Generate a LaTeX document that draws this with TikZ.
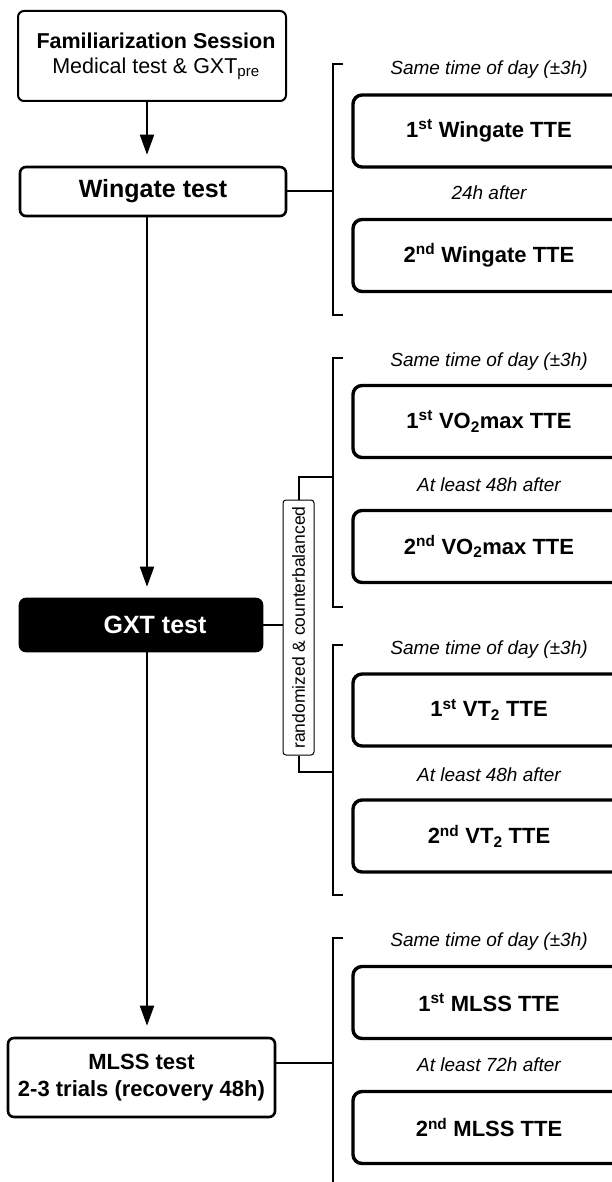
\documentclass[tikz,border=0pt]{standalone}
\usepackage{fontspec}
\usepackage{graphicx}
\usepackage{tikz}
\usetikzlibrary{arrows.meta, positioning}
\setmainfont{Liberation Sans}
\tikzset{
    link/.style={line width=2pt},
    flow/.style={link, -{Triangle[length=20pt, width=14pt]}, shorten >=11pt},
    stagebox/.style={draw, line width=2.6pt, rounded corners=6pt, align=center, font=\fontsize{22}{27}\selectfont\bfseries},
    ttebox/.style={draw, line width=3.4pt, rounded corners=9pt, minimum width=272pt, minimum height=72pt, font=\fontsize{22}{26}\selectfont\bfseries},
    note/.style={font=\fontsize{19}{22}\selectfont\itshape}
}

\begin{document}
\begin{tikzpicture}[x=1pt, y=-1pt]
    \useasboundingbox (0,0) rectangle (611,1182);

    % left column
    \node[stagebox, line width=2pt, minimum width=268pt, minimum height=90pt, font=\fontsize{21.5}{25}\selectfont] (fam) at (152,56)
        {\hspace*{8pt}\textbf{Familiarization Session}\\\hspace*{8pt}Medical test \& GXT\textsubscript{pre}};
    \node[stagebox, minimum width=266pt, minimum height=49pt, font=\fontsize{25}{30}\selectfont\bfseries] (wing) at (153,191.5) {Wingate test};
    \node[stagebox, fill=black, text=white, minimum width=242pt, minimum height=52pt, font=\fontsize{25}{30}\selectfont\bfseries] (gxt) at (141,625) {\hspace*{28pt}GXT test};
    \node[stagebox, minimum width=267pt, minimum height=79pt] (mlss) at (141.5,1077.5) {MLSS test\\2-3 trials (recovery 48h)};
    \node[draw, line width=1pt, rounded corners=3pt, minimum width=31pt, minimum height=255pt, inner sep=0pt, font=\fontsize{17.5}{20}\selectfont] (rnd) at (298.5,627.5)
        {\rotatebox{90}{randomized \& counterbalanced}};

    \coordinate (spine) at (147,0);
    \draw[flow] (spine |- fam.south) -- (spine |- wing.north);
    \draw[flow] (spine |- wing.south) -- (spine |- gxt.north);
    \draw[flow] (spine |- gxt.south) -- (spine |- mlss.north);

    % brackets
    \coordinate (g1t) at (333,64);   \coordinate (g1b) at (333,315);
    \coordinate (g2t) at (333,358);  \coordinate (g2b) at (333,607);  \coordinate (g2j) at (333,477);
    \coordinate (g3t) at (333,645);  \coordinate (g3b) at (333,895);  \coordinate (g3j) at (333,772);
    \coordinate (g4t) at (333,938);  \coordinate (g4b) at (333,1190);
    \draw[link] ([xshift=10pt]g1t) -- (g1t) -- (g1b) -- ([xshift=10pt]g1b);
    \draw[link] ([xshift=10pt]g2t) -- (g2t) -- (g2b) -- ([xshift=10pt]g2b);
    \draw[link] ([xshift=10pt]g3t) -- (g3t) -- (g3b) -- ([xshift=10pt]g3b);
    \draw[link] ([xshift=10pt]g4t) -- (g4t) -- (g4b);

    \draw[link] (wing.east) -- (wing.east -| g1t);
    \draw[link] (gxt.east) -- (gxt.east -| rnd.west);
    \draw[link] (rnd.north) -- (rnd.north |- g2j) -- (g2j);
    \draw[link] (rnd.south) -- (rnd.south |- g3j) -- (g3j);
    \draw[link] ([yshift=14.5pt]mlss.east) -- ([yshift=14.5pt]mlss.east -| g4t);

    % Wingate
    \node[note] (n1a) at (489,70) {Same time of day (±3h)};
    \node[ttebox] (w1) at (489,131) {1\textsuperscript{st} Wingate TTE};
    \node[note] (n1b) at (489,193) {24h after};
    \node[ttebox] (w2) at (489,255.5) {2\textsuperscript{nd} Wingate TTE};

    % VO2max
    \node[note] (n2a) at (489,362) {Same time of day (±3h)};
    \node[ttebox] (v1) at (489,421.5) {1\textsuperscript{st} VO\textsubscript{2}max TTE};
    \node[note] (n2b) at (489,485) {At least 48h after};
    \node[ttebox] (v2) at (489,546.5) {2\textsuperscript{nd} VO\textsubscript{2}max TTE};

    % VT2
    \node[note] (n3a) at (489,650) {Same time of day (±3h)};
    \node[ttebox] (t1) at (489,710) {1\textsuperscript{st} VT\textsubscript{2} TTE};
    \node[note] (n3b) at (489,775) {At least 48h after};
    \node[ttebox] (t2) at (489,836) {2\textsuperscript{nd} VT\textsubscript{2} TTE};

    % MLSS
    \node[note] (n4a) at (489,942) {Same time of day (±3h)};
    \node[ttebox] (m1) at (489,1002.5) {1\textsuperscript{st} MLSS TTE};
    \node[note] (n4b) at (489,1065) {At least 72h after};
    \node[ttebox] (m2) at (489,1127.5) {2\textsuperscript{nd} MLSS TTE};
\end{tikzpicture}
\end{document}
